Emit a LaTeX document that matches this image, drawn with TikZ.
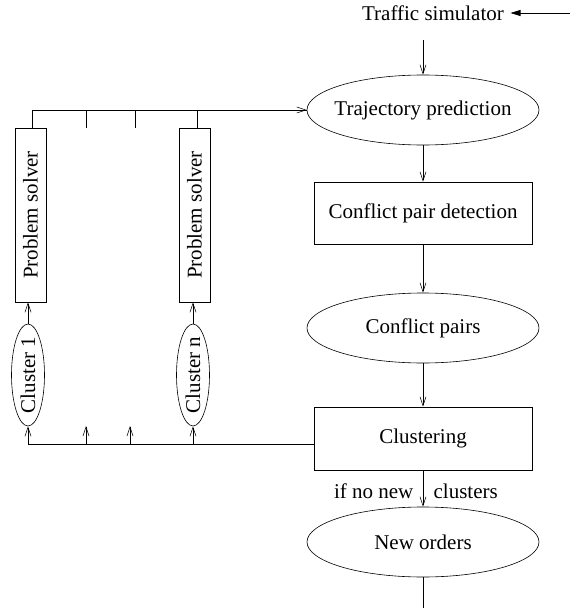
\documentclass[tikz,border=0pt]{standalone}
\usepackage{fontspec}
\setmainfont{Liberation Serif}
\usetikzlibrary{arrows.meta,shapes.geometric,calc}
\newcommand{\zb}[1]{\makebox[0pt]{#1}}
\begin{document}
\begin{tikzpicture}[x=1pt,y=-1pt,
  every node/.style={font=\fontsize{21}{24}\selectfont},
  ell/.style={draw,ellipse,inner sep=0pt,minimum width=232pt,minimum height=70pt},
  box/.style={draw,rectangle,inner sep=0pt,minimum width=218pt,minimum height=62pt},
  vbox/.style={draw,rectangle,inner sep=0pt,rotate=90,minimum width=174pt,minimum height=31pt},
  vell/.style={draw,ellipse,inner sep=0pt,rotate=90,minimum width=102pt,minimum height=33pt},
  arr/.style={-{Straight Barb[length=9pt,width=6pt]}},
  line width=0.6pt]
\useasboundingbox (0,0) rectangle (570,608);
% main column
\node (sim) at (433,13) {Traffic simulator};
\coordinate (simin) at (570,13);
\coordinate (simout) at (423,40);
\node[ell] (traj) at (423,110) {\zb{Trajectory prediction}};
\node[box] (cpd) at (423,213) {Conflict pair detection};
\node[ell] (cp) at (423,328) {\zb{Conflict pairs}};
\node[box,minimum height=63pt] (clu) at (423,438.5) {Clustering};
\node[ell] (new) at (423,542) {\zb{New orders}};
\coordinate (end) at (423,608);
\draw[-{Triangle[length=10pt,width=6pt]}] (simin) -- ($(sim.east)+(3,0)$);
\draw[arr] (simout) -- (traj.north);
\draw[arr] (traj.south) -- (cpd.north);
\draw[arr] (cpd.south) -- (cp.north);
\draw[arr] (cp.south) -- (clu.north);
\draw[arr] (clu.south) -- (new.north);
\node[anchor=east] (ifno) at (417,491) {if no new};
\node[anchor=west] (clus) at (430,491) {clusters};
\draw (new.south) -- (end);
% left side
\node[vbox] (ps1) at (30.5,215) {Problem solver};
\node[vbox] (psn) at (194.5,215) {Problem solver};
\node[vell] (c1) at (28,375) {\zb{Cluster 1}};
\node[vell] (cn) at (193,375) {\zb{Cluster n}};
\draw[arr] (c1.east) -- (c1.east |- ps1.west);
\draw[arr] (cn.east) -- (cn.east |- psn.west);
% top collector
\draw[arr] ($(ps1.east)+(1.5,0)$) |- (traj.west);
\draw ($(psn.east)+(2.5,0)$) |- (traj.west);
\coordinate (t1) at (86,128);
\coordinate (t2) at (135,128);
\draw (t1) -- (t1 |- traj.west);
\draw (t2) -- (t2 |- traj.west);
% bottom distributor
\coordinate (bl) at ($(clu.west)+(0,5.5)$);
\draw[arr] (bl) -| (c1.west);
\draw[arr] (bl -| cn.west) -- (cn.west);
\coordinate (b1) at (86,444);
\coordinate (b2) at (130,444);
\draw[arr] (b1) -- (86,426);
\draw[arr] (b2) -- (130,426);
\end{tikzpicture}
\end{document}
